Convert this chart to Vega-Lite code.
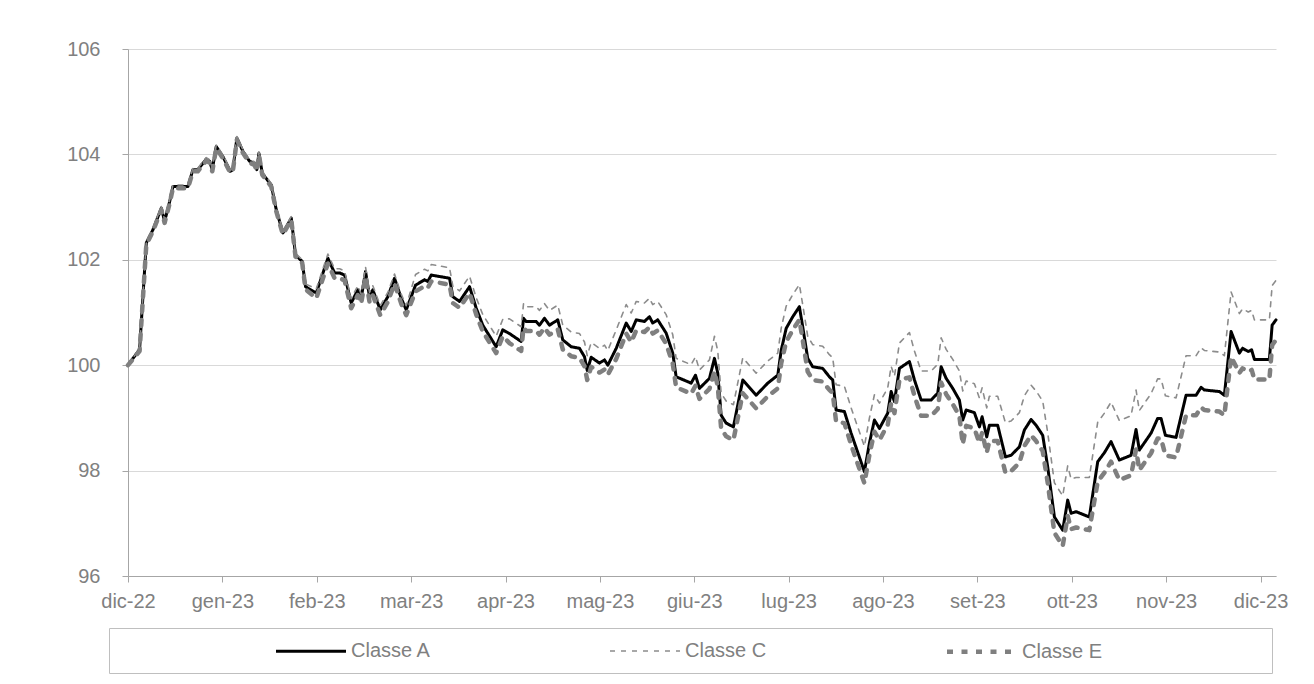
{
"$schema":"https://vega.github.io/schema/vega-lite/v6.json",
"width":1148,"height":527,
"autosize":{"type":"none"},
"padding":{"left":128,"top":49,"right":38,"bottom":108},
"background":"white",
"config":{"view":{"stroke":null},"font":"Liberation Sans"},
"data":{"values":[
{"m":0,"Classe A":100.00,"Classe C":100.00,"Classe E":100.00},
{"m":0.123,"Classe A":100.30,"Classe C":100.32,"Classe E":100.27},
{"m":0.194,"Classe A":102.32,"Classe C":102.35,"Classe E":102.29},
{"m":0.264,"Classe A":102.57,"Classe C":102.60,"Classe E":102.54},
{"m":0.353,"Classe A":102.98,"Classe C":103.01,"Classe E":102.95},
{"m":0.388,"Classe A":102.73,"Classe C":102.76,"Classe E":102.70},
{"m":0.441,"Classe A":103.10,"Classe C":103.13,"Classe E":103.07},
{"m":0.476,"Classe A":103.39,"Classe C":103.42,"Classe E":103.36},
{"m":0.635,"Classe A":103.39,"Classe C":103.42,"Classe E":103.36},
{"m":0.688,"Classe A":103.71,"Classe C":103.74,"Classe E":103.68},
{"m":0.740,"Classe A":103.71,"Classe C":103.74,"Classe E":103.68},
{"m":0.829,"Classe A":103.91,"Classe C":103.94,"Classe E":103.88},
{"m":0.864,"Classe A":103.87,"Classe C":103.90,"Classe E":103.84},
{"m":0.893,"Classe A":103.71,"Classe C":103.74,"Classe E":103.68},
{"m":0.935,"Classe A":104.15,"Classe C":104.18,"Classe E":104.12},
{"m":1.005,"Classe A":103.96,"Classe C":103.99,"Classe E":103.93},
{"m":1.084,"Classe A":103.68,"Classe C":103.71,"Classe E":103.65},
{"m":1.111,"Classe A":103.71,"Classe C":103.74,"Classe E":103.68},
{"m":1.154,"Classe A":104.31,"Classe C":104.34,"Classe E":104.28},
{"m":1.217,"Classe A":104.06,"Classe C":104.09,"Classe E":104.03},
{"m":1.288,"Classe A":103.87,"Classe C":103.90,"Classe E":103.84},
{"m":1.341,"Classe A":103.83,"Classe C":103.86,"Classe E":103.80},
{"m":1.365,"Classe A":103.71,"Classe C":103.74,"Classe E":103.68},
{"m":1.387,"Classe A":104.02,"Classe C":104.05,"Classe E":103.99},
{"m":1.423,"Classe A":103.64,"Classe C":103.67,"Classe E":103.61},
{"m":1.518,"Classe A":103.42,"Classe C":103.45,"Classe E":103.39},
{"m":1.571,"Classe A":102.95,"Classe C":102.98,"Classe E":102.92},
{"m":1.641,"Classe A":102.51,"Classe C":102.54,"Classe E":102.48},
{"m":1.730,"Classe A":102.79,"Classe C":102.82,"Classe E":102.76},
{"m":1.775,"Classe A":102.09,"Classe C":102.12,"Classe E":102.06},
{"m":1.846,"Classe A":101.97,"Classe C":102.00,"Classe E":101.94},
{"m":1.881,"Classe A":101.49,"Classe C":101.54,"Classe E":101.44},
{"m":1.995,"Classe A":101.37,"Classe C":101.45,"Classe E":101.27},
{"m":2.118,"Classe A":102.03,"Classe C":102.11,"Classe E":101.93},
{"m":2.189,"Classe A":101.75,"Classe C":101.83,"Classe E":101.65},
{"m":2.242,"Classe A":101.75,"Classe C":101.83,"Classe E":101.65},
{"m":2.295,"Classe A":101.71,"Classe C":101.79,"Classe E":101.61},
{"m":2.365,"Classe A":101.18,"Classe C":101.26,"Classe E":101.08},
{"m":2.435,"Classe A":101.43,"Classe C":101.51,"Classe E":101.33},
{"m":2.471,"Classe A":101.27,"Classe C":101.35,"Classe E":101.17},
{"m":2.517,"Classe A":101.78,"Classe C":101.86,"Classe E":101.68},
{"m":2.559,"Classe A":101.30,"Classe C":101.38,"Classe E":101.20},
{"m":2.594,"Classe A":101.43,"Classe C":101.51,"Classe E":101.33},
{"m":2.673,"Classe A":101.05,"Classe C":101.13,"Classe E":100.95},
{"m":2.753,"Classe A":101.30,"Classe C":101.38,"Classe E":101.20},
{"m":2.824,"Classe A":101.65,"Classe C":101.73,"Classe E":101.55},
{"m":2.895,"Classe A":101.27,"Classe C":101.35,"Classe E":101.17},
{"m":2.948,"Classe A":101.05,"Classe C":101.13,"Classe E":100.95},
{"m":3.047,"Classe A":101.52,"Classe C":101.72,"Classe E":101.40},
{"m":3.142,"Classe A":101.62,"Classe C":101.82,"Classe E":101.50},
{"m":3.177,"Classe A":101.59,"Classe C":101.79,"Classe E":101.47},
{"m":3.213,"Classe A":101.71,"Classe C":101.91,"Classe E":101.59},
{"m":3.407,"Classe A":101.65,"Classe C":101.85,"Classe E":101.53},
{"m":3.442,"Classe A":101.30,"Classe C":101.50,"Classe E":101.18},
{"m":3.513,"Classe A":101.21,"Classe C":101.41,"Classe E":101.09},
{"m":3.619,"Classe A":101.49,"Classe C":101.69,"Classe E":101.37},
{"m":3.690,"Classe A":101.08,"Classe C":101.28,"Classe E":100.96},
{"m":3.759,"Classe A":100.76,"Classe C":100.96,"Classe E":100.64},
{"m":3.901,"Classe A":100.35,"Classe C":100.55,"Classe E":100.23},
{"m":3.971,"Classe A":100.67,"Classe C":100.87,"Classe E":100.55},
{"m":4.042,"Classe A":100.60,"Classe C":100.88,"Classe E":100.42},
{"m":4.166,"Classe A":100.45,"Classe C":100.73,"Classe E":100.27},
{"m":4.191,"Classe A":100.89,"Classe C":101.17,"Classe E":100.71},
{"m":4.219,"Classe A":100.83,"Classe C":101.11,"Classe E":100.65},
{"m":4.325,"Classe A":100.83,"Classe C":101.11,"Classe E":100.65},
{"m":4.360,"Classe A":100.76,"Classe C":101.04,"Classe E":100.58},
{"m":4.413,"Classe A":100.89,"Classe C":101.17,"Classe E":100.71},
{"m":4.466,"Classe A":100.76,"Classe C":101.04,"Classe E":100.58},
{"m":4.554,"Classe A":100.86,"Classe C":101.14,"Classe E":100.68},
{"m":4.607,"Classe A":100.48,"Classe C":100.76,"Classe E":100.30},
{"m":4.696,"Classe A":100.35,"Classe C":100.63,"Classe E":100.17},
{"m":4.784,"Classe A":100.32,"Classe C":100.60,"Classe E":100.14},
{"m":4.837,"Classe A":100.16,"Classe C":100.44,"Classe E":99.98},
{"m":4.866,"Classe A":99.90,"Classe C":100.18,"Classe E":99.72},
{"m":4.908,"Classe A":100.15,"Classe C":100.43,"Classe E":99.97},
{"m":4.996,"Classe A":100.04,"Classe C":100.32,"Classe E":99.86},
{"m":5.049,"Classe A":100.10,"Classe C":100.38,"Classe E":99.92},
{"m":5.084,"Classe A":100.00,"Classe C":100.28,"Classe E":99.82},
{"m":5.173,"Classe A":100.32,"Classe C":100.67,"Classe E":100.12},
{"m":5.279,"Classe A":100.80,"Classe C":101.15,"Classe E":100.60},
{"m":5.332,"Classe A":100.64,"Classe C":100.99,"Classe E":100.44},
{"m":5.385,"Classe A":100.86,"Classe C":101.21,"Classe E":100.66},
{"m":5.472,"Classe A":100.83,"Classe C":101.18,"Classe E":100.63},
{"m":5.525,"Classe A":100.92,"Classe C":101.27,"Classe E":100.72},
{"m":5.560,"Classe A":100.80,"Classe C":101.15,"Classe E":100.60},
{"m":5.613,"Classe A":100.86,"Classe C":101.21,"Classe E":100.66},
{"m":5.702,"Classe A":100.61,"Classe C":100.96,"Classe E":100.41},
{"m":5.772,"Classe A":100.23,"Classe C":100.58,"Classe E":100.03},
{"m":5.808,"Classe A":99.78,"Classe C":100.13,"Classe E":99.58},
{"m":5.967,"Classe A":99.66,"Classe C":100.01,"Classe E":99.46},
{"m":6.013,"Classe A":99.81,"Classe C":100.16,"Classe E":99.61},
{"m":6.055,"Classe A":99.56,"Classe C":99.91,"Classe E":99.36},
{"m":6.161,"Classe A":99.75,"Classe C":100.10,"Classe E":99.55},
{"m":6.214,"Classe A":100.13,"Classe C":100.55,"Classe E":99.88},
{"m":6.249,"Classe A":99.85,"Classe C":100.27,"Classe E":99.60},
{"m":6.285,"Classe A":99.05,"Classe C":99.47,"Classe E":98.80},
{"m":6.338,"Classe A":98.90,"Classe C":99.32,"Classe E":98.65},
{"m":6.415,"Classe A":98.83,"Classe C":99.25,"Classe E":98.58},
{"m":6.514,"Classe A":99.72,"Classe C":100.14,"Classe E":99.47},
{"m":6.656,"Classe A":99.43,"Classe C":99.85,"Classe E":99.18},
{"m":6.779,"Classe A":99.66,"Classe C":100.08,"Classe E":99.41},
{"m":6.885,"Classe A":99.81,"Classe C":100.23,"Classe E":99.56},
{"m":6.921,"Classe A":100.28,"Classe C":100.70,"Classe E":100.03},
{"m":6.974,"Classe A":100.70,"Classe C":101.12,"Classe E":100.45},
{"m":7.044,"Classe A":100.92,"Classe C":101.34,"Classe E":100.67},
{"m":7.114,"Classe A":101.11,"Classe C":101.53,"Classe E":100.86},
{"m":7.149,"Classe A":100.73,"Classe C":101.15,"Classe E":100.48},
{"m":7.202,"Classe A":100.13,"Classe C":100.55,"Classe E":99.88},
{"m":7.255,"Classe A":99.97,"Classe C":100.39,"Classe E":99.72},
{"m":7.361,"Classe A":99.94,"Classe C":100.36,"Classe E":99.69},
{"m":7.432,"Classe A":99.78,"Classe C":100.20,"Classe E":99.53},
{"m":7.467,"Classe A":99.72,"Classe C":100.14,"Classe E":99.47},
{"m":7.503,"Classe A":99.15,"Classe C":99.63,"Classe E":98.93},
{"m":7.591,"Classe A":99.12,"Classe C":99.60,"Classe E":98.90},
{"m":7.662,"Classe A":98.71,"Classe C":99.19,"Classe E":98.49},
{"m":7.803,"Classe A":97.98,"Classe C":98.46,"Classe E":97.76},
{"m":7.856,"Classe A":98.52,"Classe C":99.00,"Classe E":98.30},
{"m":7.909,"Classe A":98.96,"Classe C":99.44,"Classe E":98.74},
{"m":7.962,"Classe A":98.80,"Classe C":99.28,"Classe E":98.58},
{"m":8.050,"Classe A":99.09,"Classe C":99.57,"Classe E":98.87},
{"m":8.086,"Classe A":99.50,"Classe C":99.98,"Classe E":99.28},
{"m":8.121,"Classe A":99.31,"Classe C":99.79,"Classe E":99.09},
{"m":8.174,"Classe A":99.94,"Classe C":100.42,"Classe E":99.72},
{"m":8.280,"Classe A":100.07,"Classe C":100.62,"Classe E":99.77},
{"m":8.333,"Classe A":99.72,"Classe C":100.27,"Classe E":99.42},
{"m":8.404,"Classe A":99.34,"Classe C":99.89,"Classe E":99.04},
{"m":8.510,"Classe A":99.34,"Classe C":99.89,"Classe E":99.04},
{"m":8.580,"Classe A":99.47,"Classe C":100.02,"Classe E":99.17},
{"m":8.616,"Classe A":99.97,"Classe C":100.52,"Classe E":99.67},
{"m":8.669,"Classe A":99.75,"Classe C":100.30,"Classe E":99.45},
{"m":8.739,"Classe A":99.56,"Classe C":100.11,"Classe E":99.26},
{"m":8.809,"Classe A":99.34,"Classe C":99.89,"Classe E":99.04},
{"m":8.845,"Classe A":98.96,"Classe C":99.51,"Classe E":98.50},
{"m":8.881,"Classe A":99.15,"Classe C":99.70,"Classe E":98.85},
{"m":8.968,"Classe A":99.10,"Classe C":99.65,"Classe E":98.80},
{"m":9.021,"Classe A":98.83,"Classe C":99.38,"Classe E":98.53},
{"m":9.050,"Classe A":99.02,"Classe C":99.57,"Classe E":98.72},
{"m":9.099,"Classe A":98.64,"Classe C":99.19,"Classe E":98.34},
{"m":9.127,"Classe A":98.86,"Classe C":99.41,"Classe E":98.56},
{"m":9.215,"Classe A":98.86,"Classe C":99.41,"Classe E":98.56},
{"m":9.297,"Classe A":98.26,"Classe C":98.91,"Classe E":97.96},
{"m":9.357,"Classe A":98.29,"Classe C":98.94,"Classe E":97.99},
{"m":9.445,"Classe A":98.45,"Classe C":99.10,"Classe E":98.15},
{"m":9.498,"Classe A":98.77,"Classe C":99.42,"Classe E":98.47},
{"m":9.569,"Classe A":98.97,"Classe C":99.62,"Classe E":98.67},
{"m":9.622,"Classe A":98.86,"Classe C":99.51,"Classe E":98.56},
{"m":9.692,"Classe A":98.67,"Classe C":99.32,"Classe E":98.37},
{"m":9.745,"Classe A":98.07,"Classe C":98.72,"Classe E":97.77},
{"m":9.816,"Classe A":97.12,"Classe C":97.77,"Classe E":96.82},
{"m":9.904,"Classe A":96.87,"Classe C":97.52,"Classe E":96.57},
{"m":9.957,"Classe A":97.44,"Classe C":98.09,"Classe E":97.14},
{"m":9.993,"Classe A":97.19,"Classe C":97.84,"Classe E":96.89},
{"m":10.046,"Classe A":97.22,"Classe C":97.87,"Classe E":96.92},
{"m":10.186,"Classe A":97.12,"Classe C":97.87,"Classe E":96.87},
{"m":10.275,"Classe A":98.17,"Classe C":98.92,"Classe E":97.79},
{"m":10.346,"Classe A":98.34,"Classe C":99.09,"Classe E":97.96},
{"m":10.416,"Classe A":98.55,"Classe C":99.30,"Classe E":98.17},
{"m":10.504,"Classe A":98.20,"Classe C":98.95,"Classe E":97.82},
{"m":10.628,"Classe A":98.29,"Classe C":99.04,"Classe E":97.91},
{"m":10.681,"Classe A":98.78,"Classe C":99.53,"Classe E":98.40},
{"m":10.716,"Classe A":98.39,"Classe C":99.14,"Classe E":98.01},
{"m":10.840,"Classe A":98.71,"Classe C":99.46,"Classe E":98.33},
{"m":10.910,"Classe A":98.99,"Classe C":99.74,"Classe E":98.61},
{"m":10.946,"Classe A":98.99,"Classe C":99.74,"Classe E":98.61},
{"m":10.992,"Classe A":98.67,"Classe C":99.42,"Classe E":98.29},
{"m":11.105,"Classe A":98.63,"Classe C":99.38,"Classe E":98.25},
{"m":11.211,"Classe A":99.43,"Classe C":100.18,"Classe E":99.05},
{"m":11.317,"Classe A":99.43,"Classe C":100.18,"Classe E":99.05},
{"m":11.370,"Classe A":99.58,"Classe C":100.33,"Classe E":99.20},
{"m":11.405,"Classe A":99.53,"Classe C":100.28,"Classe E":99.15},
{"m":11.564,"Classe A":99.50,"Classe C":100.25,"Classe E":99.12},
{"m":11.617,"Classe A":99.43,"Classe C":100.18,"Classe E":99.05},
{"m":11.688,"Classe A":100.64,"Classe C":101.39,"Classe E":100.16},
{"m":11.776,"Classe A":100.23,"Classe C":100.98,"Classe E":99.85},
{"m":11.810,"Classe A":100.32,"Classe C":101.07,"Classe E":99.94},
{"m":11.870,"Classe A":100.26,"Classe C":101.01,"Classe E":99.88},
{"m":11.906,"Classe A":100.29,"Classe C":101.04,"Classe E":99.91},
{"m":11.935,"Classe A":100.11,"Classe C":100.86,"Classe E":99.73},
{"m":12.094,"Classe A":100.11,"Classe C":100.86,"Classe E":99.73},
{"m":12.123,"Classe A":100.76,"Classe C":101.51,"Classe E":100.38},
{"m":12.164,"Classe A":100.86,"Classe C":101.61,"Classe E":100.48}
]},
"transform":[{"fold":["Classe A","Classe C","Classe E"],"as":["serie","v"]}],
"mark":{"type":"line","strokeCap":"round","strokeJoin":"round"},
"encoding":{
"x":{"field":"m","type":"quantitative","scale":{"domain":[0,12.164],"nice":false,"zero":false},
"axis":{"title":null,"values":[0,1,2,3,4,5,6,7,8,9,10,11,12],"labelExpr":"['dic-22','gen-23','feb-23','mar-23','apr-23','mag-23','giu-23','lug-23','ago-23','set-23','ott-23','nov-23','dic-23'][datum.value]","grid":false,"domainColor":"#a6a6a6","tickColor":"#a6a6a6","tickSize":6,"labelColor":"#808080","labelFontSize":20,"labelPadding":9,"labelFlush":false,"labelOverlap":false,"labelFont":"Liberation Sans"}},
"y":{"field":"v","type":"quantitative","scale":{"domain":[96,106],"nice":false,"zero":false},
"axis":{"title":null,"values":[96,98,100,102,104,106],"format":"d","grid":true,"gridColor":"#d9d9d9","domainColor":"#a6a6a6","tickColor":"#a6a6a6","tickSize":6,"labelColor":"#808080","labelFontSize":20,"labelPadding":22,"labelFont":"Liberation Sans"}},
"color":{"field":"serie","type":"ordinal","scale":{"type":"ordinal","domain":["Classe A","Classe C","Classe E"],"range":["#000000","#8c8c8c","#7f7f7f"]},
"legend":{"orient":"none","legendX":-19,"legendY":579,"direction":"horizontal","columns":3,"symbolType":"M-1.25,0H5.75M29.25,0","symbolSize":400,"labelFontSize":20,"labelColor":"#808080","labelFont":"Liberation Sans","labelOffset":50,"columnPadding":19,"padding":11,"strokeColor":"#bfbfbf","title":" ","titleOrient":"left","titleAngle":0,"titleBaseline":"middle","titleAnchor":"middle","titleFontSize":20,"titleColor":"#ffffff","titlePadding":156,"labelLimit":400}},
"strokeDash":{"field":"serie","type":"ordinal","scale":{"type":"ordinal","domain":["Classe A","Classe C","Classe E"],"range":[[1,0],[5,6],[6,8.5]]}},
"strokeWidth":{"field":"serie","type":"ordinal","scale":{"type":"ordinal","domain":["Classe A","Classe C","Classe E"],"range":[3,1.6,4.5]}}
}
}
